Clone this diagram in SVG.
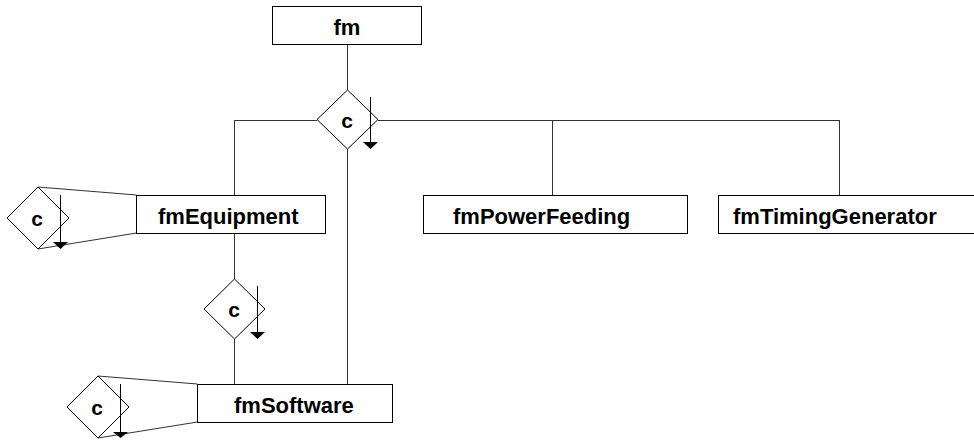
<svg xmlns="http://www.w3.org/2000/svg" width="974" height="443" viewBox="0 0 974 443">
<style>
.box{fill:#fff;stroke:#000;stroke-width:1}
.dia{fill:#fff;stroke:#000;stroke-width:1}
.con{fill:none;stroke:#333;stroke-width:1}
.lbl{font-family:"Liberation Sans",Arial,sans-serif;font-weight:bold;font-size:22px;fill:#000}
.c{font-family:"Liberation Sans",Arial,sans-serif;font-weight:bold;font-size:21px;fill:#000;text-anchor:middle}
.arr{stroke:#000;stroke-width:1}
.tri{fill:#000}
</style>
<rect width="974" height="443" fill="#fff"/>
<g id="connectors">
<path class="con" d="M347.5 44 V90 M234.5 120.5 H317 M378 120.5 H839.5 M234.5 120 V195 M552.5 120 V195 M839.5 120 V195 M347.5 149 V384 M234.5 233 V279 M234.5 339 V384"/>
<path class="con" d="M38 187 L136.5 195 M38 249 L136.5 233"/>
<path class="con" d="M98 376 L197.5 384 M98 438 L197.5 422"/>
</g>
<g id="fm">
<rect class="box" x="272.5" y="6.5" width="149" height="38"/>
<text class="lbl" x="347" y="35" text-anchor="middle">fm</text>
</g>
<g id="choice-fm">
<polygon class="dia" points="347.5,90 378,119.5 347.5,149 317,119.5"/>
<text class="c" x="347" y="128">c</text>
<line class="arr" x1="370.5" y1="97" x2="370.5" y2="142"/>
<polygon class="tri" points="363,142 378,142 370.5,149"/>
</g>
<g id="fmEquipment">
<rect class="box" x="136.5" y="195.5" width="189" height="38"/>
<text class="lbl" x="158" y="224">fmEquipment</text>
</g>
<g id="choice-equipment-left">
<polygon class="dia" points="38,187 69,218 38,249 7,218"/>
<text class="c" x="37" y="226">c</text>
<line class="arr" x1="60.5" y1="195" x2="60.5" y2="242"/>
<polygon class="tri" points="53,242 68,242 60.5,249"/>
</g>
<g id="fmPowerFeeding">
<rect class="box" x="423.5" y="195.5" width="264" height="38"/>
<text class="lbl" x="453" y="224">fmPowerFeeding</text>
</g>
<g id="fmTimingGenerator">
<rect class="box" x="718.5" y="195.5" width="262" height="38"/>
<text class="lbl" x="733" y="224">fmTimingGenerator</text>
</g>
<g id="choice-equipment">
<polygon class="dia" points="234.5,279 265,309 234.5,339 204,309"/>
<text class="c" x="234" y="317">c</text>
<line class="arr" x1="257.5" y1="286" x2="257.5" y2="332"/>
<polygon class="tri" points="250,332 265,332 257.5,339"/>
</g>
<g id="fmSoftware">
<rect class="box" x="197.5" y="384.5" width="195" height="38"/>
<text class="lbl" x="234" y="413">fmSoftware</text>
</g>
<g id="choice-software-left">
<polygon class="dia" points="98,376 129,407 98,438 67,407"/>
<text class="c" x="97" y="415">c</text>
<line class="arr" x1="120.5" y1="384" x2="120.5" y2="432"/>
<polygon class="tri" points="113,432 128,432 120.5,438"/>
</g>
</svg>
